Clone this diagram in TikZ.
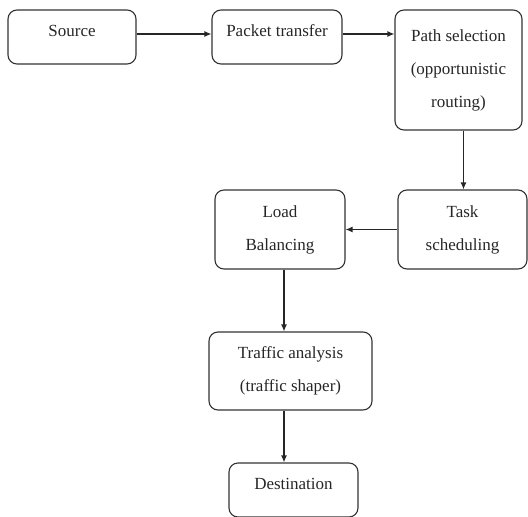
\documentclass[tikz,border=0pt]{standalone}
\usepackage{fontspec}
\setmainfont{Liberation Serif}
\usetikzlibrary{arrows.meta}
\tikzset{
  box/.style={draw=black!80, line width=1.1pt, rounded corners=9pt, align=center,
    inner sep=0pt, font=\fontsize{17}{33}\selectfont, text=black!85},
  onebox/.style={box, text height=26pt, text depth=28pt},
  flow/.style={-{Latex[length=7pt,width=6pt]}, line width=1.2pt, black!85},
}
\begin{document}
\begin{tikzpicture}[x=1pt,y=-1pt]
      \useasboundingbox (0,0) rectangle (528,517);
      %riga in alto
      \node[onebox, minimum width=128pt] (source) at (72,37) {Source};
      \node[onebox, minimum width=130pt] (packet) at (277,37) {Packet transfer};
      \node[box, minimum width=127pt, minimum height=120pt] (path) at (458.5,70) {Path selection\\(opportunistic\\routing)};
      %riga centrale
      \node[box, minimum width=129pt, minimum height=79pt] (task) at (462.5,229.5) {Task\\scheduling};
      \node[box, minimum width=130pt, minimum height=79pt] (load) at (280,229.5) {Load\\Balancing};
      %in basso
      \node[box, minimum width=163pt, minimum height=78pt] (traffic) at (290.5,371) {Traffic analysis\\(traffic shaper)};
      \node[onebox, minimum width=129pt] (dest) at (293.5,490) {Destination};
      %frecce
      \draw[flow] ([yshift=3pt]source.east) -- ([yshift=3pt]packet.west);
      \draw[flow] ([yshift=3pt]packet.east) -- ([yshift=3pt]packet.east -| path.west);
      \draw[flow] ([xshift=5pt]path.south) -- ([xshift=5pt]path.south |- task.north);
      \draw[flow] (task.west) -- (load.east);
      \draw[flow] ([xshift=4pt]load.south) -- ([xshift=4pt]load.south |- traffic.north);
      \draw[flow] ([xshift=-6.5pt]traffic.south) -- ([xshift=-6.5pt]traffic.south |- dest.north);
    \end{tikzpicture}
\end{document}
